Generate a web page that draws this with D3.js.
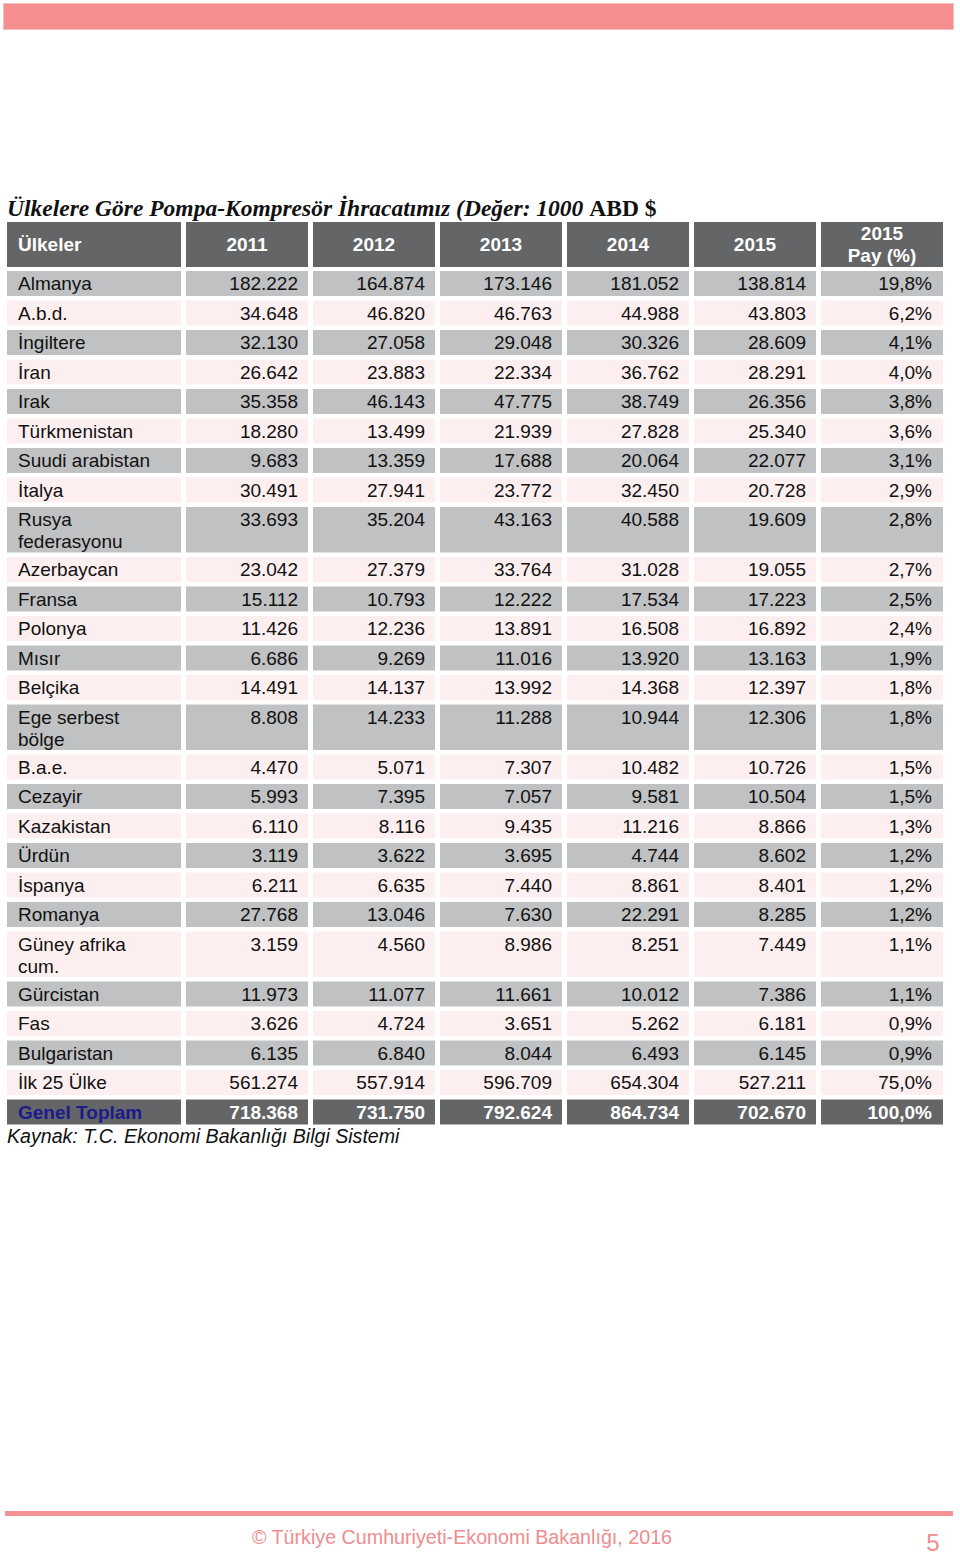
<!DOCTYPE html>
<html><head><meta charset="utf-8">
<script src="https://cdn.jsdelivr.net/npm/d3@7"></script>
<style>
html,body{margin:0;padding:0;background:#fff;}
svg{display:block;}
</style></head>
<body>
<script>
// ---- data ----
const title = "Ülkelere Göre Pompa-Kompresör İhracatımız (Değer: 1000 ";
const titleTail = "ABD $";
const headers = ["2011","2012","2013","2014","2015","2015\nPay (%)"];
const countries = ["Almanya","A.b.d.","İngiltere","İran","Irak","Türkmenistan","Suudi arabistan","İtalya","Rusya\nfederasyonu","Azerbaycan","Fransa","Polonya","Mısır","Belçika","Ege serbest\nbölge","B.a.e.","Cezayir","Kazakistan","Ürdün","İspanya","Romanya","Güney afrika\ncum.","Gürcistan","Fas","Bulgaristan","İlk 25 Ülke","Genel Toplam"];
const v2011 = [182222,34648,32130,26642,35358,18280,9683,30491,33693,23042,15112,11426,6686,14491,8808,4470,5993,6110,3119,6211,27768,3159,11973,3626,6135,561274,718368];
const v2012 = [164874,46820,27058,23883,46143,13499,13359,27941,35204,27379,10793,12236,9269,14137,14233,5071,7395,8116,3622,6635,13046,4560,11077,4724,6840,557914,731750];
const v2013 = [173146,46763,29048,22334,47775,21939,17688,23772,43163,33764,12222,13891,11016,13992,11288,7307,7057,9435,3695,7440,7630,8986,11661,3651,8044,596709,792624];
const v2014 = [181052,44988,30326,36762,38749,27828,20064,32450,40588,31028,17534,16508,13920,14368,10944,10482,9581,11216,4744,8861,22291,8251,10012,5262,6493,654304,864734];
const v2015 = [138814,43803,28609,28291,26356,25340,22077,20728,19609,19055,17223,16892,13163,12397,12306,10726,10504,8866,8602,8401,8285,7449,7386,6181,6145,527211,702670];
const share2015 = [19.8,6.2,4.1,4.0,3.8,3.6,3.1,2.9,2.8,2.7,2.5,2.4,1.9,1.8,1.8,1.5,1.5,1.3,1.2,1.2,1.2,1.1,1.1,0.9,0.9,75.0,100.0];
const source = "Kaynak: T.C. Ekonomi Bakanlığı Bilgi Sistemi";
const footer = "© Türkiye Cumhuriyeti-Ekonomi Bakanlığı, 2016";
const pageNo = "5";

// ---- setup ----
const W = 960, H = 1557;
const FONT = "'Liberation Sans', Arial, Helvetica, sans-serif";
const tr = d3.formatLocale({decimal:",", thousands:".", grouping:[3], currency:["",""]});
const fNum = tr.format(",.0f");
const fPct = tr.format(".1f");

const series = [v2011, v2012, v2013, v2014, v2015];
const rows = countries.map((c, i) => ({
  name: c,
  lines: c.split("\n"),
  cells: series.map(s => fNum(s[i])).concat([fPct(share2015[i]) + "%"]),
  total: i === countries.length - 1,
  shade: i % 2 === 0 ? "gray" : "pink"
}));

const svg = d3.select("body").append("svg").attr("width", W).attr("height", H);

// page decorations
svg.append("rect").attr("x",3.5).attr("y",3.5).attr("width",950).attr("height",26)
  .attr("fill","#f58e8e").attr("stroke","#f7bcbc").attr("stroke-width",1);
svg.append("rect").attr("x",5).attr("y",1511).attr("width",948).attr("height",5).attr("fill","#f39393");
svg.append("text").attr("x",462).attr("y",1544).attr("text-anchor","middle")
  .attr("font-family",FONT).attr("font-size",19.7).attr("fill","#ef8c8e").text(footer);
svg.append("text").attr("x",933).attr("y",1551).attr("text-anchor","middle")
  .attr("font-family",FONT).attr("font-size",24).attr("fill","#ef8c8e").text(pageNo);

// title
const t = svg.append("text").attr("x",7).attr("y",216)
  .attr("font-family","'Liberation Serif','Times New Roman',serif").attr("font-size",23.5)
  .attr("font-weight","bold").attr("fill","#111");
t.append("tspan").attr("font-style","italic").text(title);
t.append("tspan").text(titleTail);

// scales
const x = d3.scaleBand().domain(d3.range(headers.length)).range([186, 943]).paddingInner(5/127).paddingOuter(0);
const firstCol = {x0: 7, x1: 181};
const pitch = 29.5, extraLine = 20.5, gap = 4.5;
const heights = rows.map(r => pitch + (r.lines.length - 1) * extraLine);
const tops = [];
heights.reduce((acc, h, i) => { tops[i] = acc; return acc + h; }, 0);
const y = d3.scaleLinear().domain([0, 1]).range([271, 272]);

const headTop = 222, headH = 45;
const dark = "#646567", grayRow = "#c0c1c3", pinkRow = "#fdeff0";

// header
const hg = svg.append("g");
hg.append("rect").attr("x",firstCol.x0).attr("y",headTop).attr("width",firstCol.x1-firstCol.x0).attr("height",headH).attr("fill",dark);
hg.append("text").attr("x",18).attr("y",headTop+29).attr("font-family",FONT).attr("font-size",19)
  .attr("font-weight","bold").attr("fill","#fff").text("Ülkeler");
headers.forEach((h, j) => {
  hg.append("rect").attr("x",x(j)).attr("y",headTop).attr("width",x.bandwidth()).attr("height",headH).attr("fill",dark);
  const ls = h.split("\n");
  ls.forEach((l, k) => {
    hg.append("text").attr("x",x(j)+x.bandwidth()/2)
      .attr("y", ls.length === 1 ? headTop+29 : headTop+18 + k*22)
      .attr("text-anchor","middle").attr("font-family",FONT).attr("font-size",19)
      .attr("font-weight","bold").attr("fill","#fff").text(l);
  });
});

// body rows
const rg = svg.append("g").selectAll("g").data(rows).join("g")
  .attr("transform",(d,i)=>`translate(0,${y(tops[i])})`);

rg.each(function(d, i){
  const g = d3.select(this);
  const h = heights[i] - gap;
  const fill = d.total ? dark : (d.shade === "gray" ? grayRow : pinkRow);
  g.append("rect").attr("x",firstCol.x0).attr("y",0).attr("width",firstCol.x1-firstCol.x0).attr("height",h).attr("fill",fill);
  d.lines.forEach((l, k) => {
    g.append("text").attr("x",18).attr("y",19 + k*22)
      .attr("font-family",FONT).attr("font-size",19)
      .attr("font-weight", d.total ? "bold" : "normal")
      .attr("fill", d.total ? "#1b1b8c" : "#111").text(l);
  });
  d.cells.forEach((c, j) => {
    g.append("rect").attr("x",x(j)).attr("y",0).attr("width",x.bandwidth()).attr("height",h).attr("fill",fill);
    g.append("text").attr("x",x(j)+x.bandwidth()-(j===5?11:10)).attr("y",19)
      .attr("text-anchor","end").attr("font-family",FONT).attr("font-size",19)
      .attr("font-weight", d.total ? "bold" : "normal")
      .attr("fill", d.total ? "#fff" : "#111").text(c);
  });
});

// source
const lastTop = y(tops[rows.length-1]) + heights[rows.length-1] - gap;
svg.append("text").attr("x",7).attr("y",lastTop+18).attr("font-family",FONT).attr("font-size",19.6)
  .attr("font-style","italic").attr("fill","#111").text(source);
</script>
</body></html>
